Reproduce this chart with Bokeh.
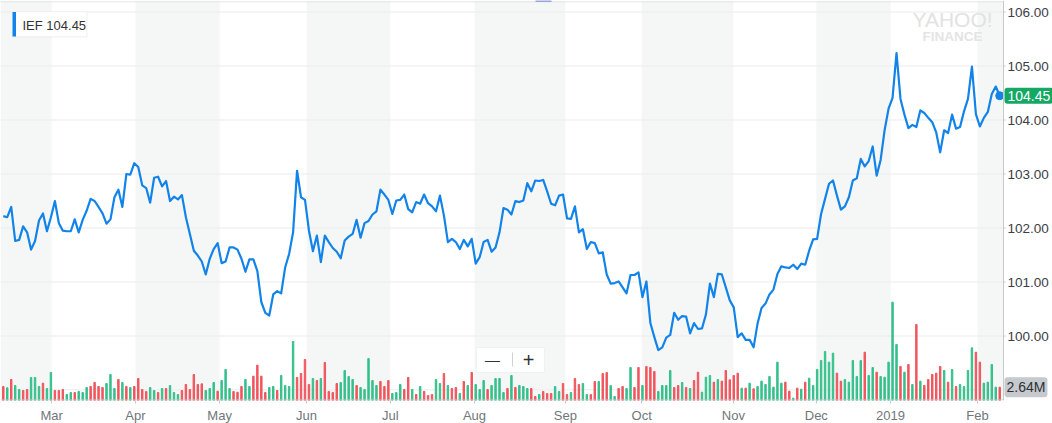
from bokeh.plotting import figure
from bokeh.models import (Range1d, FixedTicker, BoxAnnotation, Label, Span,
                          ColumnDataSource)
from bokeh.core.properties import value
from bokeh.embed import file_html
from bokeh.resources import INLINE

# ---------------- data ----------------
ticker_name = "IEF"

prices = [
    102.22, 102.20, 102.39, 101.76, 101.78, 102.03, 101.92, 101.60, 101.76, 102.14,
    102.27, 101.94, 102.20, 102.50, 102.09, 101.95, 101.94, 101.94, 102.16, 101.92,
    102.15, 102.32, 102.54, 102.50, 102.39, 102.27, 102.08, 102.16, 102.57, 102.71,
    102.39, 103.00, 102.99, 103.20, 103.13, 102.79, 102.74, 102.47, 102.93, 102.95,
    102.77, 102.87, 102.50, 102.58, 102.53, 102.61, 102.20, 101.89, 101.58, 101.49,
    101.38, 101.14, 101.43, 101.61, 101.72, 101.35, 101.38, 101.64, 101.64, 101.60,
    101.43, 101.19, 101.42, 101.42, 101.20, 100.63, 100.43, 100.38, 100.77, 100.83,
    100.79, 101.27, 101.52, 101.92, 103.06, 102.57, 102.52, 101.95, 101.57, 101.86,
    101.37, 101.86, 101.74, 101.63, 101.56, 101.44, 101.77, 101.84, 101.89,
    102.15, 101.82, 102.09, 102.13, 102.25, 102.31, 102.71, 102.62, 102.52, 102.26,
    102.51, 102.52, 102.62, 102.35, 102.29, 102.48, 102.45, 102.62, 102.46, 102.40,
    102.31, 102.60, 102.23, 101.74, 101.80, 101.74, 101.61, 101.78, 101.66, 101.80,
    101.34, 101.46, 101.74, 101.78, 101.56, 101.64, 101.92, 102.37, 102.34, 102.25,
    102.50, 102.48, 102.51, 102.83, 102.68, 102.88, 102.87, 102.89, 102.68, 102.45,
    102.42, 102.60, 102.62, 102.18, 102.17, 102.40, 101.92, 101.98, 101.61, 101.74,
    101.72, 101.53, 101.55, 101.14, 100.97, 100.98, 101.01, 100.90, 100.79, 101.13,
    101.13, 101.18, 100.72, 101.01, 100.24, 99.98, 99.74, 99.79, 99.97, 100.02,
    100.43, 100.30, 100.37, 100.36, 100.05, 100.24, 100.13,
    100.14, 100.40, 100.97, 100.72, 101.15, 101.14, 100.90, 100.66, 100.53, 99.98,
    100.05, 99.93, 99.93, 99.79, 100.23, 100.52, 100.60, 100.77, 100.86, 101.15,
    101.29, 101.27, 101.26, 101.32, 101.24, 101.34, 101.32, 101.58, 101.79, 101.80,
    102.26, 102.54, 102.82, 102.88, 102.60, 102.34, 102.40, 102.57,
    102.88, 102.92, 103.28, 103.14, 103.24, 103.51, 102.97, 103.26, 103.81, 104.21,
    104.41, 105.24, 104.39, 104.10, 103.85, 103.91, 103.87, 104.18, 104.13, 104.04,
    103.96, 103.77, 103.40, 103.81, 103.76, 104.10, 103.84, 103.87, 104.16, 104.39,
    104.99, 104.11, 103.88, 104.04, 104.15, 104.48, 104.62, 104.45,
]

# volume in millions of shares
volumes = [
    2.78, 2.51, 4.17, 2.98, 2.18, 1.99, 2.18, 4.57, 4.57, 2.78,
    3.44, 2.38, 5.56, 1.99, 1.99, 2.18, 1.19, 1.59, 1.59, 1.79,
    1.59, 2.58, 2.78, 3.57, 2.78, 2.58, 3.37, 5.16, 2.38, 4.17,
    3.57, 2.78, 2.58, 2.78, 4.37, 2.18, 1.79, 2.58, 1.99, 1.59,
    2.38, 2.38, 2.98, 1.59, 1.19, 1.99, 3.18, 2.18, 5.16, 3.18,
    3.31, 1.99, 2.38, 3.57, 1.85, 3.97, 6.15, 2.38, 1.79, 1.65,
    2.78, 4.17, 2.78, 4.83, 7.01, 4.83, 1.59, 2.58, 2.78, 1.99,
    4.96, 2.98, 2.78, 11.71, 4.57, 5.36, 8.14, 3.18, 4.37, 3.97,
    4.37, 7.54, 1.79, 1.59, 3.37, 3.57, 5.96,
    4.76, 4.17, 2.98, 2.58, 2.18, 8.34, 3.97, 2.98, 3.77, 2.78,
    3.97, 1.39, 1.59, 3.18, 2.18, 4.57, 2.18, 1.19, 2.78, 1.79,
    0.99, 1.19, 4.17, 3.37, 5.36, 2.98, 2.38, 2.58, 1.39, 3.77,
    2.98, 5.56, 3.18, 2.18, 3.97, 2.18, 2.98, 4.37, 4.37, 1.59,
    2.38, 4.96, 2.58, 2.98, 2.78, 2.38, 2.38, 0.79, 1.19, 1.79,
    1.39, 1.39, 2.78, 1.79, 3.37, 1.19, 1.59, 4.37, 3.18, 3.37,
    1.19, 1.19, 3.77, 3.77, 5.36, 5.56, 2.98, 0.79, 2.38, 2.78,
    2.38, 6.55, 2.58, 6.55, 2.98, 6.75, 6.55, 5.76, 1.79, 2.98,
    2.98, 5.96, 2.58, 2.98, 3.57, 2.58, 2.38, 3.97,
    5.62, 1.65, 4.63, 4.96, 3.64, 4.17, 3.84, 5.96, 4.10, 4.96,
    5.43, 2.45, 2.45, 3.44, 2.32, 2.78, 3.84, 3.18, 4.76, 2.65,
    7.61, 3.44, 3.64, 1.85, 0.46, 2.45, 2.25, 3.64, 4.43, 2.98,
    6.15, 7.94, 9.73, 7.61, 9.40, 5.43, 3.84, 4.17, 3.64, 7.94,
    4.76, 7.94, 9.59, 4.96, 6.55, 5.62, 4.76, 4.63, 7.61, 19.52,
    11.12, 6.75, 5.62, 7.15, 3.18, 15.09, 3.84, 2.98, 4.17, 5.16,
    5.43, 6.75, 5.96, 3.64, 6.15, 2.78, 3.18, 2.78, 5.96, 10.45,
    9.59, 7.61, 3.44, 3.64, 7.15, 2.65, 2.64,
]

# g = up day (green bar), r = down day (red bar)
volume_dir = list(
    "rgrggrrggg" "rggrrrggrg" "ggrrrrgggr" "grgrrrrggr" "grgggrrrrr"
    "rgggrgggrr" "rggrrrrggr" "ggggrrrrgr" "grrrrgg"
    "ggrgggggrr" "rgggrrgrgr" "rrggrgrrgr" "grgggrgggg" "rgrgggrrgr"
    "rrggrrgrrg" "grrgrrggrr" "ggrrgrrrgg" "ggrrgrgr"
    "rgggrgrrrr" "rgrgrggggg" "ggrrgrgrgg" "gggggrrggg" "ggrggrgggg"
    "grgrgrgrrr" "rrgrgrgggg" "rrggggr"
)

months = ["Mar", "Apr", "May", "Jun", "Jul", "Aug", "Sep", "Oct", "Nov", "Dec", "2019", "Feb"]
month_start = [12.2, 33.3, 54.5, 76.4, 97.5, 118.7, 141.6, 160.8, 183.9, 204.8, 223.5, 245.4]
price_ticks = [100, 101, 102, 103, 104, 105, 106]

# ---------------- figure ----------------
FONT = "Liberation Sans"
LINE_BLUE = "#1283e8"
UP_GREEN = "#34c08b"
DOWN_RED = "#f1555d"
AXIS_GREY = "#c9c9c9"

n = len(prices)
days = list(range(n))
vol_n = min(len(volumes), len(volume_dir), n)

x0 = -0.7
axis_x = n - 0.05                     # right edge of the price area (axis line)
span_plot = axis_x - x0               # maps onto 1003 px
x1 = x0 + span_plot * 1052 / 1003     # extra room for the price scale
day_px = 1003 / span_plot

y0, y1 = 98.806, 106.213

p = figure(frame_width=1052, frame_height=400,
           x_range=Range1d(x0, x1), y_range=Range1d(y0, y1),
           output_backend="svg", toolbar_location=None, y_axis_location=None,
           min_border_left=0, min_border_top=0, min_border_right=0, min_border_bottom=23,
           background_fill_color="white", border_fill_color="white")
p.outline_line_color = None
p.extra_y_ranges = {"vol": Range1d(0, 79.4)}

# alternating month shading
edges = [x0] + month_start + [axis_x]
for k in range(0, len(edges) - 1, 2):
    p.add_layout(BoxAnnotation(left=edges[k], right=edges[k + 1], fill_color="#f5f7f7",
                               fill_alpha=1.0, line_color=None, level="underlay"))

# grid (stops at the price scale)
p.xgrid.visible = False
p.ygrid.visible = False
p.segment(x0=[x0] * len(price_ticks), x1=[axis_x] * len(price_ticks),
          y0=price_ticks, y1=price_ticks, line_color="#ebebeb", line_width=1)
# faint volume reference line
p.segment(x0=[x0], x1=[axis_x], y0=[2.12], y1=[2.12], y_range_name="vol",
          line_color="#ececec", line_width=1)
# top border
p.add_layout(BoxAnnotation(left=0, right=1003, top=399, bottom=398.2,
                           left_units="screen", right_units="screen",
                           top_units="screen", bottom_units="screen",
                           fill_color="#dedede", fill_alpha=1, line_color=None))
p.add_layout(BoxAnnotation(left=535, right=551, top=400, bottom=399,
                           left_units="screen", right_units="screen",
                           top_units="screen", bottom_units="screen",
                           fill_color="#4a5ec4", fill_alpha=1, line_color=None))

# volume bars
vsrc = ColumnDataSource(dict(
    x=days[:vol_n], top=volumes[:vol_n],
    color=[UP_GREEN if d == "g" else DOWN_RED for d in volume_dir[:vol_n]]))
p.vbar(x="x", top="top", bottom=0, width=0.36, color="color", source=vsrc,
       y_range_name="vol")

# price line
p.line(days, prices, line_color=LINE_BLUE, line_width=2.2, line_join="round")
p.scatter([days[-1]], [prices[-1]], size=8, color=LINE_BLUE)

# ---- right price scale ----
p.add_layout(Span(location=axis_x, dimension="height", line_color=AXIS_GREY, line_width=1))
p.segment(x0=[axis_x] * len(price_ticks), x1=[axis_x + 2.2 / day_px] * len(price_ticks),
          y0=price_ticks, y1=price_ticks, line_color=AXIS_GREY, line_width=1)
p.text(x=[axis_x + 4 / day_px] * len(price_ticks), y=price_ticks,
       text=[f"{t:.2f}" for t in price_ticks], text_align="left", text_baseline="middle",
       text_font=value(FONT), text_font_size="13.5px", text_color="#3b4046")

# ---- bottom date axis ----
xa = p.xaxis[0]
xa.ticker = FixedTicker(ticks=month_start)
xa.major_label_overrides = {float(v): lab for v, lab in zip(month_start, months)}
xa.axis_line_color = None
xa.major_tick_line_color = AXIS_GREY
xa.major_tick_out = 3
xa.major_tick_in = 0
xa.minor_tick_line_color = None
xa.major_label_standoff = 4
xa.major_label_text_font = FONT
xa.major_label_text_font_size = "13px"
xa.major_label_text_color = "#70767c"
p.add_layout(BoxAnnotation(left=0, right=1003, top=1, bottom=0,
                           left_units="screen", right_units="screen",
                           top_units="screen", bottom_units="screen",
                           fill_color=AXIS_GREY, fill_alpha=1, line_color=None))

# ticker badge (top-left)
p.add_layout(BoxAnnotation(left=12, right=87, top=388, bottom=363,
                           left_units="screen", right_units="screen",
                           top_units="screen", bottom_units="screen",
                           fill_color="#000000", fill_alpha=0.05, line_color=None))
p.add_layout(BoxAnnotation(left=12, right=86, top=388.5, bottom=364,
                           left_units="screen", right_units="screen",
                           top_units="screen", bottom_units="screen",
                           fill_color="white", fill_alpha=1, line_color="#ececec"))
p.add_layout(BoxAnnotation(left=12, right=15.5, top=388.5, bottom=364,
                           left_units="screen", right_units="screen",
                           top_units="screen", bottom_units="screen",
                           fill_color=LINE_BLUE, fill_alpha=1, line_color=None))
p.add_layout(Label(x=22, y=375.5, x_units="screen", y_units="screen",
                   text=f"{ticker_name} {prices[-1]:.2f}", text_baseline="middle",
                   text_font=FONT, text_font_size="13px", text_color="#333333"))

# watermark
p.add_layout(Label(x=952, y=381.5, x_units="screen", y_units="screen", text="YAHOO!",
                   text_align="center", text_baseline="middle", text_font=FONT,
                   text_font_size="21px", text_color="#e2e2e2"))
p.add_layout(Label(x=952, y=364.5, x_units="screen", y_units="screen", text="FINANCE",
                   text_align="center", text_baseline="middle", text_font=FONT,
                   text_font_size="13.5px", text_font_style="bold", text_color="#e4e4e4"))

# zoom control
p.add_layout(BoxAnnotation(left=476, right=544, top=53, bottom=28,
                           left_units="screen", right_units="screen",
                           top_units="screen", bottom_units="screen",
                           fill_color="white", fill_alpha=0.9, line_color="#dcdcdc"))
p.add_layout(BoxAnnotation(left=511.5, right=512.3, top=48, bottom=34,
                           left_units="screen", right_units="screen",
                           top_units="screen", bottom_units="screen",
                           fill_color="#c8c8c8", fill_alpha=1, line_color=None))
p.add_layout(Label(x=492, y=41, x_units="screen", y_units="screen", text="\u2014",
                   text_align="center", text_baseline="middle", text_font=FONT,
                   text_font_size="15px", text_color="#333333"))
p.add_layout(Label(x=528, y=41, x_units="screen", y_units="screen", text="+",
                   text_align="center", text_baseline="middle", text_font=FONT,
                   text_font_size="20px", text_color="#333333"))

# last price badge and last volume badge (on the price scale)
p.add_layout(Label(x=1004, y=prices[-1], x_units="screen", text=f"{prices[-1]:.2f}",
                   text_baseline="middle", text_font=FONT, text_font_size="14px",
                   text_color="white", background_fill_color="#15a764",
                   padding=3, border_radius=3))
p.add_layout(Label(x=1004, y=volumes[vol_n - 1], x_units="screen", y_range_name="vol",
                   text=f"{volumes[vol_n - 1]:.2f}M", text_baseline="middle",
                   text_font=FONT, text_font_size="14px", text_color="#2d3136",
                   background_fill_color="#c6c9cd", padding=2, border_radius=3))

open("out.html", "w").write(file_html(p, INLINE))
